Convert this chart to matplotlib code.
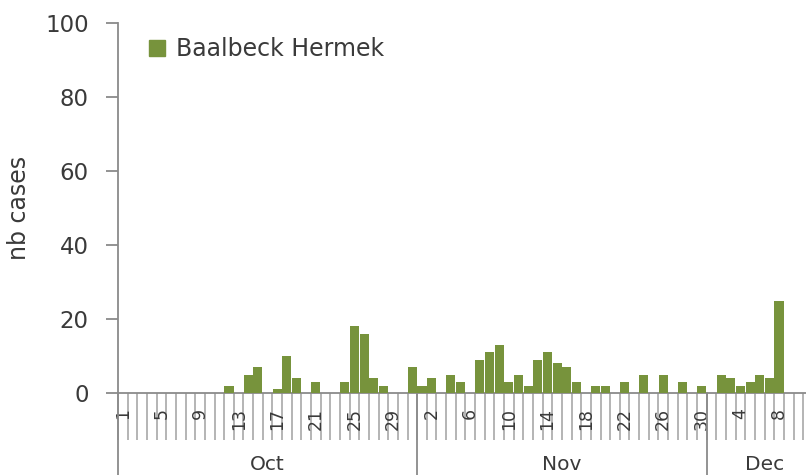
import matplotlib
matplotlib.use("Agg")
import matplotlib.pyplot as plt
import matplotlib.transforms as mtransforms
from matplotlib.patches import Patch
import numpy as np

plt.rcParams['font.family'] = ['DejaVu Sans']

series_name = "Baalbeck Hermek"
months = ["Oct", "Nov", "Dec"]
oct_cases = [0, 0, 0, 0, 0, 0, 0, 0, 0, 0, 0, 2, 0, 5, 7, 0, 1, 10, 4, 0,
             3, 0, 0, 3, 18, 16, 4, 2, 0, 0, 7]
nov_cases = [2, 4, 0, 5, 3, 0, 9, 11, 13, 3, 5, 2, 9, 11, 8, 7, 3, 0, 2, 2,
             0, 3, 0, 5, 0, 5, 0, 3, 0, 2]
dec_cases = [0, 5, 4, 2, 3, 5, 4, 25, 0, 0, 0, 0]
y_ticks = [0, 20, 40, 60, 80, 100]

month_values = [oct_cases, nov_cases, dec_cases]
cases = [v for m in month_values for v in m]
day_nums = [d + 1 for m in month_values for d in range(len(m))]
n = len(cases)
idx = np.arange(n)

green = '#77933C'
axis_gray = '#8a8a8a'
tick_gray = '#a0a0a0'
text_col = '#3a3a3a'

W, H = 806, 475
fig = plt.figure(figsize=(W / 100, H / 100), dpi=100)
ax_left, ax_bottom, ax_top = 118, 82, 23
day_px = 9.65
ax_w = W - ax_left
ax_h = H - ax_top - ax_bottom
ax = fig.add_axes([ax_left / W, ax_bottom / H, ax_w / W, ax_h / H])

ax.bar(idx + 0.5, cases, width=0.94, color=green, zorder=3)

for s in ['top', 'right']:
    ax.spines[s].set_visible(False)
for s in ['left', 'bottom']:
    ax.spines[s].set_color(axis_gray)
    ax.spines[s].set_linewidth(1.3)

ax.set_yticks(y_ticks)
ax.tick_params(axis='y', direction='out', length=9, width=1.3, color=axis_gray,
               labelsize=16.5, labelcolor=text_col, pad=12)

# day boundaries as major ticks (long), day labels as minor ticks
ax.set_xticks(np.arange(0, n + 1))
ax.set_xticklabels([])
ax.tick_params(axis='x', which='major', direction='out', length=34, width=1.1,
               color=tick_gray)
lab_pos = idx[::4] + 0.5
ax.set_xticks(lab_pos, minor=True)
ax.set_xticklabels([str(day_nums[i]) for i in idx[::4]], minor=True)
ax.tick_params(axis='x', which='minor', length=0, labelsize=12.5,
               labelcolor=text_col, pad=11, labelrotation=90)

ax.set_xlim(0, ax_w / day_px)
ax.set_ylim(0, 100)

# month separators and labels
trans = mtransforms.blended_transform_factory(ax.transData, ax.transAxes)
bottom_ax = -ax_bottom / ax_h
start = 0
for name, vals in zip(months, month_values):
    ax.plot([start, start], [0, bottom_ax], transform=trans, color=axis_gray,
            lw=1.3, clip_on=False)
    ax.text(start + len(vals) / 2, -72 / ax_h, name, transform=trans, ha='center',
            va='center', fontsize=14.5, color=text_col, clip_on=False)
    start += len(vals)

ax.set_ylabel("nb cases", fontsize=17, color=text_col, labelpad=10)

leg = ax.legend(handles=[Patch(color=green, label=series_name)], loc='upper left',
                bbox_to_anchor=(0.024, 1.0), frameon=False, fontsize=17,
                handlelength=0.7, handleheight=0.7, handletextpad=0.45,
                labelcolor=text_col, borderaxespad=0.2)

fig.savefig("out.png", dpi=100)
